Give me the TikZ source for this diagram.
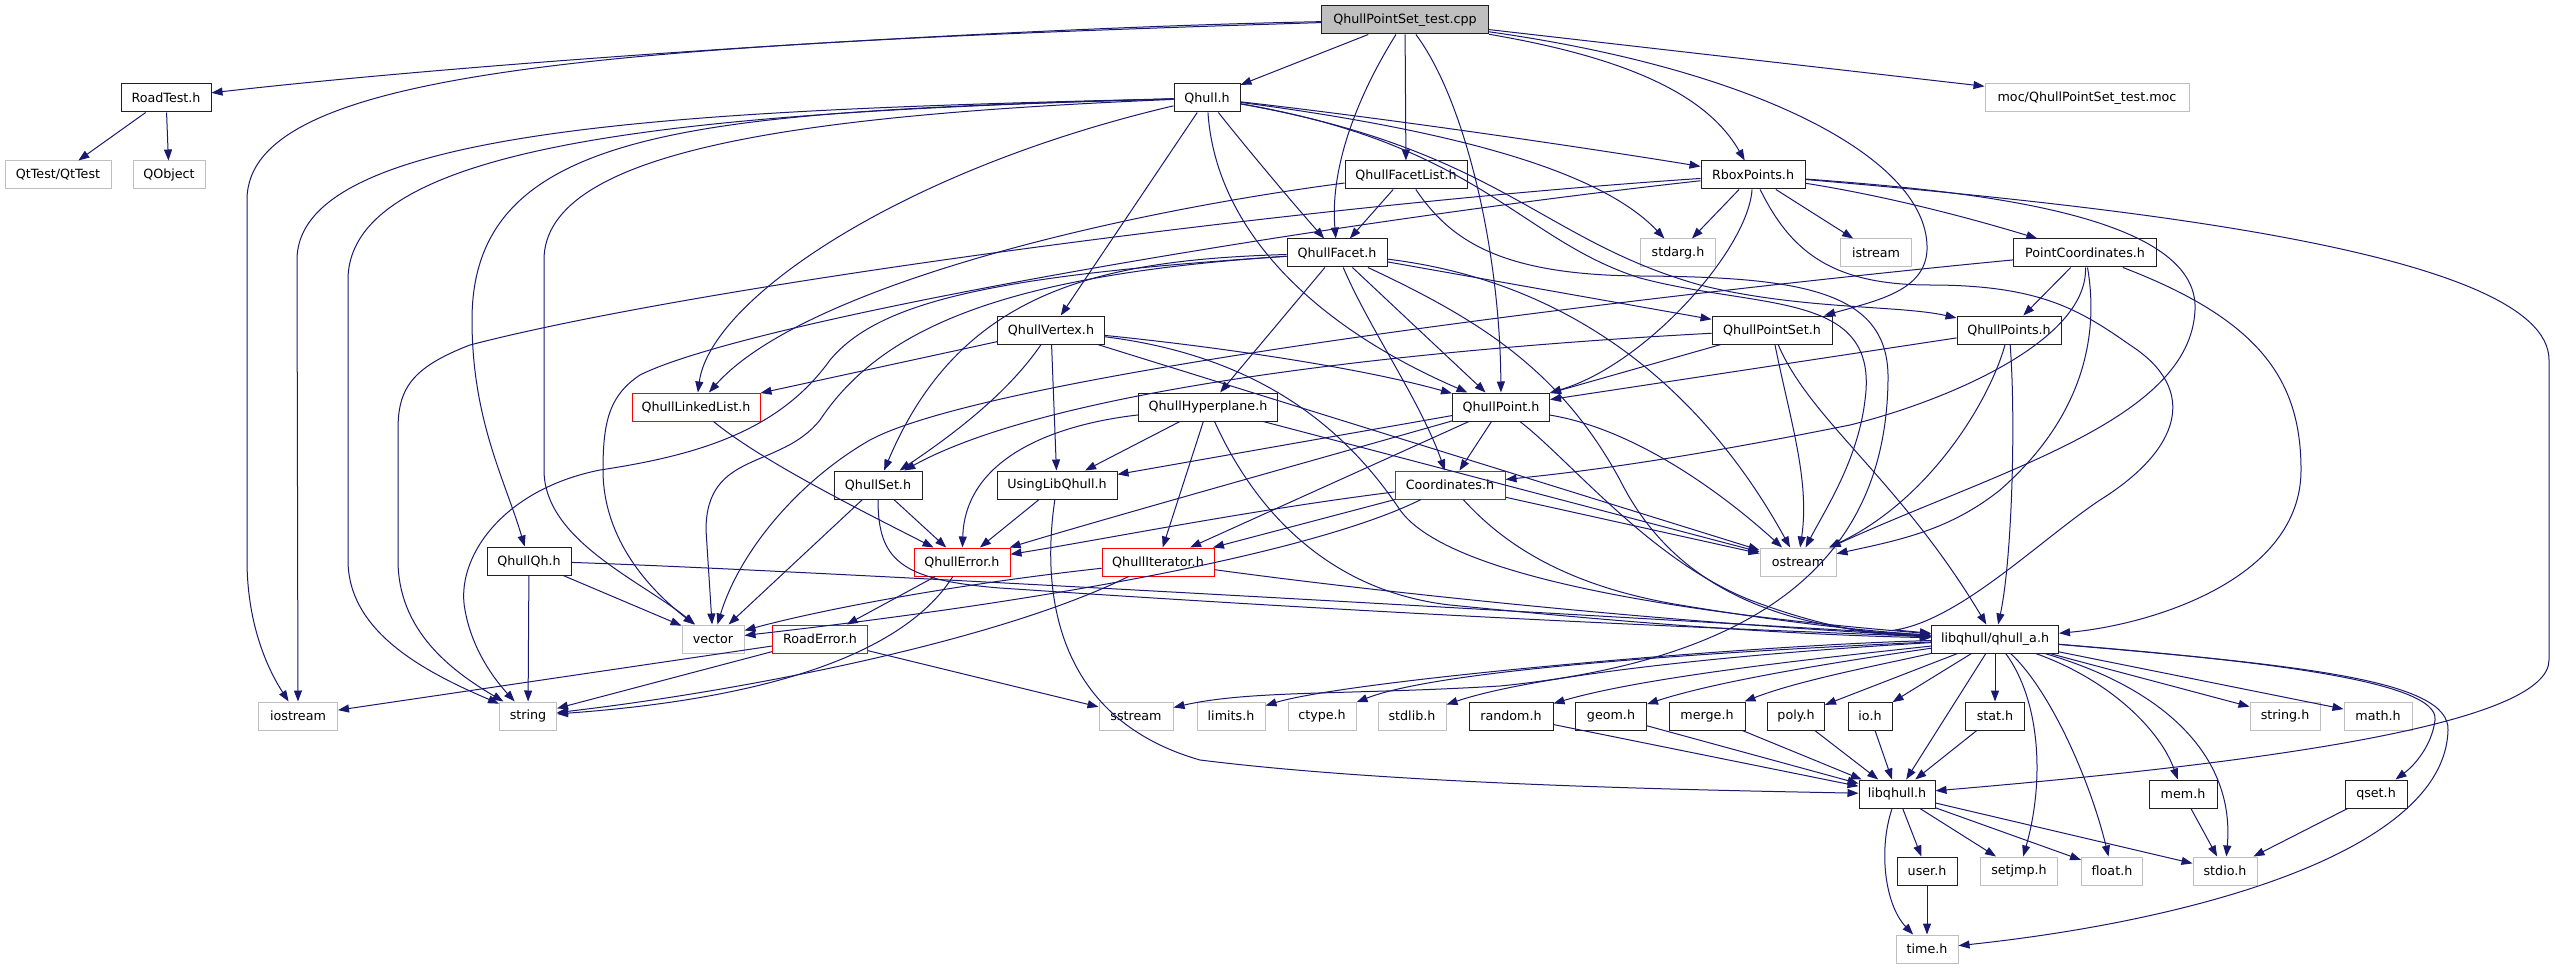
\documentclass[tikz,border=0pt]{standalone}
\usepackage{fontspec}
\setmainfont{DejaVu Sans}
\usetikzlibrary{arrows.meta}
\definecolor{midblue}{HTML}{191970}
\definecolor{greyb}{HTML}{BFBFBF}
\definecolor{boxline}{HTML}{202020}
\newcommand\nfont{\fontsize{12.7}{15}\selectfont}
\begin{document}
\begin{tikzpicture}[x=1pt,y=-1pt,
 box/.style={minimum height=28pt, inner sep=0pt, font=\nfont, text=black, fill=white},
 hb/.style={box, draw=boxline, line width=1pt},
 hg/.style={box, draw=greyb, line width=1pt},
 hr/.style={box, draw=red, line width=1pt},
 hroot/.style={box, draw=boxline, fill=greyb, line width=1pt},
 dep/.style={draw=midblue, line width=1pt, -{Triangle[length=11pt,width=8pt]}}]
\fill[white] (0,0) rectangle (2555,968);
\useasboundingbox (0,0) rectangle (2555,968);
% ---------------- nodes
\node[hroot, minimum width=167pt] (cpp) at (1405,20) {QhullPointSet\_test.cpp};
\node[hb, minimum width=90pt] (road) at (166,98) {RoadTest.h};
\node[hg, minimum width=106pt] (qttest) at (58,175) {QtTest/QtTest};
\node[hg, minimum width=72pt] (qobject) at (169,175) {QObject};
\node[hb, minimum width=66pt] (qhull) at (1207,98) {Qhull.h};
\node[hg, minimum width=204pt] (moc) at (2087,98) {moc/QhullPointSet\_test.moc};
\node[hb, minimum width=122pt] (qfl) at (1406,175) {QhullFacetList.h};
\node[hb, minimum width=104pt] (rbox) at (1753,175) {RboxPoints.h};
\node[hb, minimum width=100pt] (qf) at (1337,253) {QhullFacet.h};
\node[hg, minimum width=75pt] (stdarg) at (1678,253) {stdarg.h};
\node[hg, minimum width=71pt] (istream) at (1876,253) {istream};
\node[hb, minimum width=143pt] (pc) at (2085,253) {PointCoordinates.h};
\node[hb, minimum width=107pt] (qv) at (1051,330) {QhullVertex.h};
\node[hb, minimum width=120pt] (qps) at (1772,330) {QhullPointSet.h};
\node[hb, minimum width=104pt] (qpts) at (2009,330) {QhullPoints.h};
\node[hr, minimum width=128pt] (qll) at (696,407) {QhullLinkedList.h};
\node[hb, minimum width=139pt] (qhp) at (1208,407) {QhullHyperplane.h};
\node[hb, minimum width=97pt] (qp) at (1501,407) {QhullPoint.h};
\node[hb, minimum width=88pt] (qs) at (878,485) {QhullSet.h};
\node[hb, minimum width=120pt] (ulq) at (1057,485) {UsingLibQhull.h};
\node[hr, minimum width=110pt] (coord) at (1450,485) {Coordinates.h};
\node[hb, minimum width=84pt] (qqh) at (529,561) {QhullQh.h};
\node[hr, minimum width=96pt] (qerr) at (962,562) {QhullError.h};
\node[hr, minimum width=112pt] (qit) at (1158,562) {QhullIterator.h};
\node[hg, minimum width=76pt] (ostream) at (1798,562) {ostream};
\node[hg, minimum width=62pt] (vector) at (713,639) {vector};
\node[hr, minimum width=95pt] (rerr) at (820,639) {RoadError.h};
\node[hb, minimum width=127pt] (qa) at (1995,639) {libqhull/qhull\_a.h};
\node[hg, minimum width=79pt] (iostream) at (298,716) {iostream};
\node[hg, minimum width=57pt] (string) at (528,716) {string};
\node[hg, minimum width=74pt] (sstream) at (1136,716) {sstream};
\node[hg, minimum width=68pt] (limits) at (1231,716) {limits.h};
\node[hg, minimum width=68pt] (ctype) at (1322,716) {ctype.h};
\node[hg, minimum width=68pt] (stdlib) at (1412,716) {stdlib.h};
\node[hb, minimum width=84pt] (random) at (1511,716) {random.h};
\node[hb, minimum width=71pt] (geom) at (1611,716) {geom.h};
\node[hb, minimum width=76pt] (merge) at (1707,716) {merge.h};
\node[hb, minimum width=57pt] (poly) at (1796,716) {poly.h};
\node[hb, minimum width=44pt] (io) at (1870,716) {io.h};
\node[hb, minimum width=59pt] (stat) at (1995,716) {stat.h};
\node[hg, minimum width=70pt] (stringh) at (2285,716) {string.h};
\node[hg, minimum width=68pt] (math) at (2378,716) {math.h};
\node[hb, minimum width=76pt] (libq) at (1897,794) {libqhull.h};
\node[hb, minimum width=68pt] (mem) at (2183,794) {mem.h};
\node[hb, minimum width=62pt] (qseth) at (2376,794) {qset.h};
\node[hb, minimum width=60pt] (user) at (1927,871) {user.h};
\node[hg, minimum width=77pt] (setjmp) at (2019,871) {setjmp.h};
\node[hg, minimum width=61pt] (float) at (2112,871) {float.h};
\node[hg, minimum width=64pt] (stdio) at (2225,871) {stdio.h};
\node[hg, minimum width=62pt] (time) at (1927,949) {time.h};
% ---------------- edges: cpp
\draw[dep] (cpp) .. controls (1000,28) and (500,60) .. (road);
\draw[dep] (cpp) .. controls (600,45) and (247,70) .. (247,200) -- (247,560) .. controls (247,620) and (265,665) .. (iostream);
\draw[dep] (cpp) -- (qhull);
\draw[dep] (cpp) -- (qfl);
\draw[dep] (cpp) .. controls (1355,100) and (1330,170) .. (qf);
\draw[dep] (cpp) .. controls (1465,100) and (1500,250) .. (qp);
\draw[dep] (cpp) .. controls (1640,60) and (1710,100) .. (rbox);
\draw[dep] (cpp) .. controls (1760,70) and (1930,160) .. (1927,250) .. controls (1925,290) and (1880,300) .. (qps);
\draw[dep] (cpp) -- (moc);
% road
\draw[dep] (road) -- (qttest);
\draw[dep] (road) -- (qobject);
% qhull
\draw[dep] (qhull) .. controls (700,110) and (297,125) .. (297,260) -- (iostream);
\draw[dep] (qhull) .. controls (700,112) and (348,140) .. (348,280) -- (348,560) .. controls (348,630) and (420,670) .. (string);
\draw[dep] (qhull) .. controls (700,112) and (472,125) .. (472,320) .. controls (472,420) and (505,480) .. (qqh);
\draw[dep] (qhull) .. controls (800,115) and (544,150) .. (544,260) -- (544,470) .. controls (544,540) and (640,580) .. (vector);
\draw[dep] (qhull) .. controls (900,170) and (710,300) .. (qll);
\draw[dep] (qhull) -- (qv);
\draw[dep] (qhull) .. controls (1240,140) and (1290,200) .. (qf);
\draw[dep] (qhull) .. controls (1215,220) and (1300,320) .. (qp);
\draw[dep] (qhull) .. controls (1400,120) and (1600,150) .. (rbox);
\draw[dep] (qhull) .. controls (1450,130) and (1600,170) .. (stdarg);
\draw[dep] (qhull) .. controls (1500,150) and (1540,240) .. (1700,285) .. controls (1800,310) and (1900,305) .. (qpts);
\draw[dep] (qhull) .. controls (1480,145) and (1520,240) .. (1640,278) .. controls (1760,310) and (1880,290) .. (1865,400) .. controls (1858,460) and (1825,510) .. (ostream);
% qfl
\draw[dep] (qfl) -- (qf);
\draw[dep] (qfl) .. controls (1100,215) and (800,290) .. (qll);
\draw[dep] (qfl) .. controls (1450,240) and (1500,275) .. (1640,276) .. controls (1800,277) and (1890,290) .. (1888,380) .. controls (1886,560) and (1760,660) .. (1500,686) .. controls (1350,695) and (1250,690) .. (sstream);
% rbox
\draw[dep] (rbox) .. controls (1748,250) and (1645,365) .. (qp);
\draw[dep] (rbox) .. controls (1300,205) and (700,285) .. (470,345) .. controls (410,368) and (398,390) .. (398,430) -- (398,560) .. controls (398,630) and (450,670) .. (string);
\draw[dep] (rbox) .. controls (1300,225) and (750,320) .. (640,375) .. controls (610,395) and (603,420) .. (603,470) .. controls (603,540) and (650,590) .. (vector);
\draw[dep] (rbox) -- (stdarg);
\draw[dep] (rbox) -- (istream);
\draw[dep] (rbox) .. controls (1880,195) and (1960,215) .. (pc);
\draw[dep] (rbox) .. controls (2100,205) and (2549,250) .. (2549,360) -- (2549,660) .. controls (2549,720) and (2300,760) .. (libq);
\draw[dep] (rbox) .. controls (1950,190) and (2200,210) .. (2195,310) .. controls (2190,420) and (2000,470) .. (ostream);
\draw[dep] (rbox) .. controls (1790,250) and (1830,285) .. (1930,285) .. controls (2040,285) and (2080,310) .. (2130,345) .. controls (2200,390) and (2180,450) .. (2100,500) .. controls (2040,540) and (1960,620) .. (1895,630) -- (qa);
% qf
\draw[dep] (qf) -- (qhp);
\draw[dep] (qf) .. controls (1370,330) and (1420,400) .. (coord);
\draw[dep] (qf) -- (qp);
\draw[dep] (qf) -- (qps);
\draw[dep] (qf) .. controls (1600,285) and (1720,420) .. (ostream);
\draw[dep] (qf) .. controls (1480,320) and (1560,370) .. (1620,480) .. controls (1680,600) and (1800,630) .. (qa);
\draw[dep] (qf) .. controls (1100,260) and (960,290) .. (qs);
\draw[dep] (qf) .. controls (1000,275) and (880,330) .. (820,420) .. controls (780,470) and (706,450) .. (706,530) -- (vector);
\draw[dep] (qf) .. controls (1000,275) and (880,300) .. (830,360) .. controls (780,430) and (700,455) .. (600,470) .. controls (500,490) and (455,560) .. (465,610) .. controls (472,650) and (495,680) .. (string);
% qv
\draw[dep] (qv) -- (qll);
\draw[dep] (qv) .. controls (1010,390) and (960,430) .. (qs);
\draw[dep] (qv) -- (ulq);
\draw[dep] (qv) .. controls (1200,345) and (1350,365) .. (qp);
\draw[dep] (qv) .. controls (1250,355) and (1340,420) .. (1400,510) .. controls (1450,580) and (1700,615) .. (qa);
\draw[dep] (qv) -- (ostream);
% qps
\draw[dep] (qps) .. controls (1400,350) and (1050,390) .. (qs);
\draw[dep] (qps) -- (qp);
\draw[dep] (qps) .. controls (1790,420) and (1810,480) .. (ostream);
\draw[dep] (qps) .. controls (1810,420) and (1900,480) .. (qa);
% qpts
\draw[dep] (qpts) -- (qp);
\draw[dep] (qpts) .. controls (1990,400) and (1930,500) .. (ostream);
\draw[dep] (qpts) .. controls (2016,420) and (2012,560) .. (qa);
% pc
\draw[dep] (pc) -- (qpts);
\draw[dep] (pc) .. controls (2088,340) and (1950,400) .. (1850,425) .. controls (1700,455) and (1600,470) .. (coord);
\draw[dep] (pc) .. controls (2100,340) and (2080,420) .. (2000,490) .. controls (1950,530) and (1900,540) .. (ostream);
\draw[dep] (pc) .. controls (2260,320) and (2301,380) .. (2301,470) .. controls (2301,580) and (2150,625) .. (qa);
\draw[dep] (pc) .. controls (1700,290) and (1000,370) .. (870,440) .. controls (800,480) and (740,550) .. (vector);
% qll
\draw[dep] (qll) .. controls (760,460) and (860,510) .. (qerr);
% qhp
\draw[dep] (qhp) .. controls (1050,425) and (965,460) .. (qerr);
\draw[dep] (qhp) -- (ulq);
\draw[dep] (qhp) -- (qit);
\draw[dep] (qhp) .. controls (1250,500) and (1320,590) .. (1450,605) .. controls (1650,625) and (1800,635) .. (qa);
\draw[dep] (qhp) -- (ostream);
% qp
\draw[dep] (qp) -- (ulq);
\draw[dep] (qp) -- (qit);
\draw[dep] (qp) -- (coord);
\draw[dep] (qp) .. controls (1350,450) and (1100,520) .. (qerr);
\draw[dep] (qp) .. controls (1570,460) and (1650,560) .. (1750,600) .. controls (1830,630) and (1880,635) .. (qa);
\draw[dep] (qp) .. controls (1640,430) and (1730,500) .. (ostream);
% coord
\draw[dep] (coord) .. controls (1250,510) and (1100,540) .. (qerr);
\draw[dep] (coord) -- (qit);
\draw[dep] (coord) .. controls (1330,545) and (1100,595) .. (vector);
\draw[dep] (coord) .. controls (1500,540) and (1560,585) .. (1680,605) .. controls (1800,625) and (1880,632) .. (qa);
\draw[dep] (coord) -- (ostream);
% qs
\draw[dep] (qs) -- (qerr);
\draw[dep] (qs) -- (vector);
\draw[dep] (qs) .. controls (878,560) and (900,580) .. (1000,588) .. controls (1400,615) and (1700,628) .. (qa);
% ulq
\draw[dep] (ulq) -- (qerr);
\draw[dep] (ulq) .. controls (1040,600) and (1060,720) .. (1200,760) .. controls (1400,785) and (1700,790) .. (libq);
% qqh
\draw[dep] (qqh) -- (string);
\draw[dep] (qqh) -- (vector);
\draw[dep] (qqh) .. controls (800,570) and (1500,610) .. (qa);
% qerr
\draw[dep] (qerr) -- (rerr);
\draw[dep] (qerr) .. controls (900,660) and (750,700) .. (string);
% qit
\draw[dep] (qit) .. controls (950,585) and (820,610) .. (vector);
\draw[dep] (qit) .. controls (1000,640) and (750,690) .. (string);
\draw[dep] (qit) .. controls (1400,595) and (1700,625) .. (qa);
% rerr
\draw[dep] (rerr) -- (iostream);
\draw[dep] (rerr) -- (string);
\draw[dep] (rerr) -- (sstream);
% qa
\draw[dep] (qa) -- (libq);
\draw[dep] (qa) -- (stat);
\draw[dep] (qa) .. controls (2040,700) and (2045,780) .. (setjmp);
\draw[dep] (qa) .. controls (2050,690) and (2090,780) .. (float);
\draw[dep] (qa) .. controls (2110,680) and (2160,730) .. (mem);
\draw[dep] (qa) .. controls (2170,690) and (2235,760) .. (stdio);
\draw[dep] (qa) -- (stringh);
\draw[dep] (qa) -- (math);
\draw[dep] (qa) .. controls (2250,660) and (2440,680) .. (2435,720) .. controls (2432,745) and (2415,765) .. (qseth);
\draw[dep] (qa) .. controls (2300,665) and (2450,680) .. (2448,730) .. controls (2445,850) and (2200,920) .. (time);
\draw[dep] (qa) -- (io);
\draw[dep] (qa) -- (poly);
\draw[dep] (qa) .. controls (1880,665) and (1800,680) .. (merge);
\draw[dep] (qa) .. controls (1850,660) and (1720,680) .. (geom);
\draw[dep] (qa) .. controls (1850,655) and (1650,675) .. (random);
\draw[dep] (qa) .. controls (1800,650) and (1550,670) .. (stdlib);
\draw[dep] (qa) .. controls (1800,648) and (1450,665) .. (ctype);
\draw[dep] (qa) .. controls (1750,645) and (1350,680) .. (limits);
% libq
\draw[dep] (libq) -- (user);
\draw[dep] (libq) .. controls (1878,850) and (1885,905) .. (time);
\draw[dep] (libq) -- (setjmp);
\draw[dep] (libq) -- (float);
\draw[dep] (libq) -- (stdio);
\draw[dep] (user) -- (time);
% leaves into libq / stdio
\draw[dep] (stat) -- (libq);
\draw[dep] (random) -- (libq);
\draw[dep] (geom) -- (libq);
\draw[dep] (merge) -- (libq);
\draw[dep] (poly) -- (libq);
\draw[dep] (io) -- (libq);
\draw[dep] (mem) -- (stdio);
\draw[dep] (qseth) -- (stdio);
\end{tikzpicture}
\end{document}
